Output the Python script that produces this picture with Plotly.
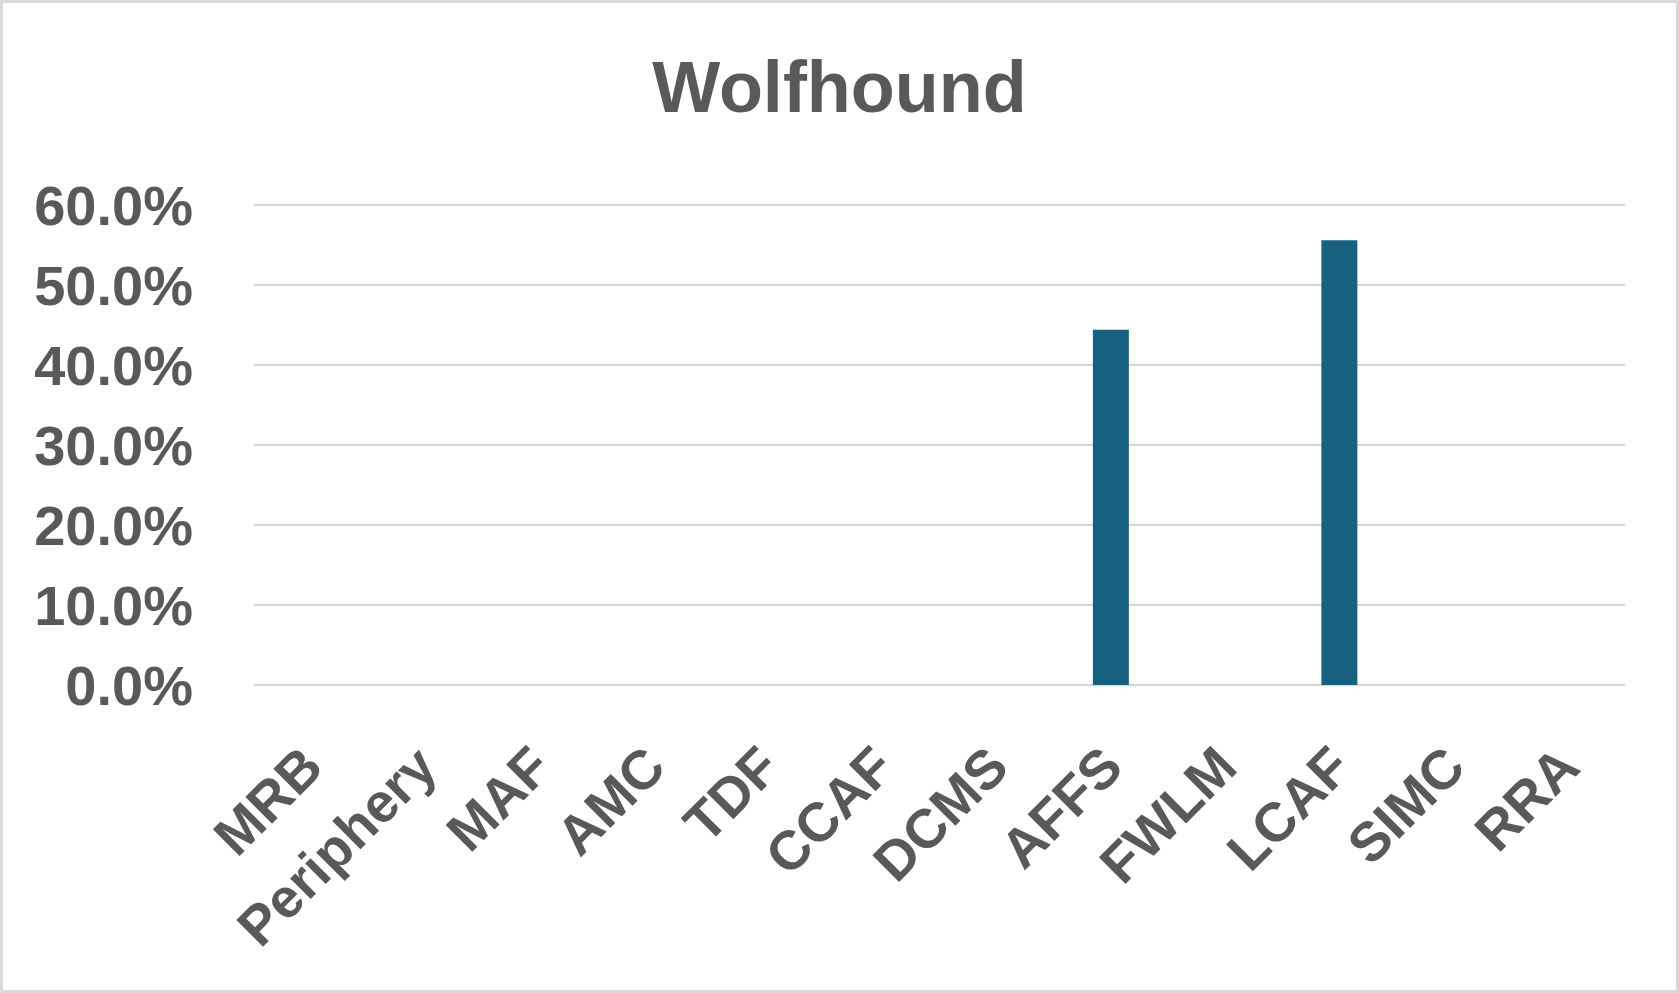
import plotly.graph_objects as go

categories = ["MRB", "Periphery", "MAF", "AMC", "TDF", "CCAF", "DCMS",
              "AFFS", "FWLM", "LCAF", "SIMC", "RRA"]
values = [0, 0, 0, 0, 0, 0, 0, 0.444, 0, 0.556, 0, 0]
ytick_vals = [0, 0.1, 0.2, 0.3, 0.4, 0.5, 0.6]
ytick_text = ["0.0%", "10.0%", "20.0%", "30.0%", "40.0%", "50.0%", "60.0%"]

W, H = 1679, 993
ML, MR, MT, MB = 254, 54, 200, 308
TXT = "#595959"
FONT = "Liberation Sans, Arial, sans-serif"

fig = go.Figure(go.Bar(
    x=categories, y=values,
    marker=dict(color="#17607f", line=dict(width=0)),
    hoverinfo="x+y",
))

pw = W - ML - MR
ph = H - MT - MB
ytop = 0.6 * ph / (ph - 5)

fig.update_layout(
    width=W, height=H,
    margin=dict(l=ML, r=MR, t=MT, b=MB, autoexpand=False),
    paper_bgcolor="white", plot_bgcolor="white",
    bargap=0.685,
    showlegend=False,
    title=dict(text="Wolfhound", x=0.5, xref="container", xanchor="center",
               y=1 - 112 / H, yanchor="bottom", yref="container",
               font=dict(family=FONT, size=72, color=TXT, weight="bold")),
    xaxis=dict(tickangle=-45, showgrid=False, showline=False, zeroline=False,
               ticks="", ticklabelstandoff=37, ticklabelshift=-5,
               tickfont=dict(family=FONT, size=55, color=TXT, weight="bold")),
    yaxis=dict(range=[0, ytop], tickvals=ytick_vals, ticktext=ytick_text,
               showgrid=True, gridcolor="#d6d6d6", gridwidth=2,
               zeroline=True, zerolinecolor="#d6d6d6", zerolinewidth=2,
               showline=False, ticks="",
               ticklabelstandoff=60,
               tickfont=dict(family=FONT, size=56, color=TXT, weight="bold")),
    shapes=[dict(type="rect", xref="paper", yref="paper",
                 x0=(1.5 - ML) / pw, x1=(W - 1.5 - ML) / pw,
                 y0=-(MB - 1.5) / ph,
                 y1=1 + (MT - 1.5) / ph,
                 line=dict(color="#d9d9d9", width=3), layer="below")],
)

fig.write_html(
    "out.html",
    config={"displayModeBar": False},
    post_script="document.body.style.margin='0';document.body.style.overflow='hidden';",
)
